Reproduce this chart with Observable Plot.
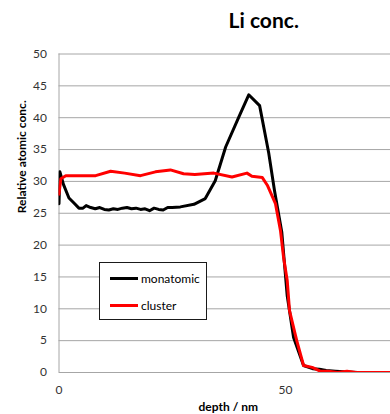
<!DOCTYPE html>
<html>
<head>
<meta charset="utf-8">
<script src="https://cdn.jsdelivr.net/npm/d3@7"></script>
<script src="https://cdn.jsdelivr.net/npm/@observablehq/plot@0.6"></script>
<style>
  html, body { margin: 0; padding: 0; background: #fff; }
  #wrap { position: relative; width: 390px; height: 414px; overflow: hidden; font-family: Lato, "Open Sans", sans-serif; }
  #legend { position: absolute; left: 99px; top: 262px; width: 108px; height: 58px; border: 1px solid #1a1a1a; box-sizing: border-box; background: #fff; }
  .item { position: absolute; left: 10px; height: 14px; display: flex; align-items: center; font-size: 12px; color: #000; }
  .swatch { width: 28px; height: 3px; margin-right: 3px; }
</style>
</head>
<body>
<div id="wrap"></div>
<script>
// Data
const title = "Li conc.";
const xLabel = "depth / nm";
const yLabel = "Relative atomic conc.";
const seriesNames = ["monatomic", "cluster"];
const seriesColors = ["#000000", "#ff0000"];
const xTicks = [0, 50];
const yTicks = [0, 5, 10, 15, 20, 25, 30, 35, 40, 45, 50];

const monoX = [0, 0.2, 1, 2.2, 3.3, 4.4, 5.3, 6, 7, 8, 9, 10, 11, 12, 13, 14, 15, 16, 17, 18, 19, 20, 21, 22, 23, 24, 25, 26.8, 29.8, 32.3, 34.5, 36.8, 39.7, 41.9, 44.3, 46.3, 47.6, 49.2, 50.4, 51.8, 54, 56, 57.5, 59, 61, 63, 66, 70, 74];
const monoY = [26.5, 31.5, 29.5, 27.4, 26.6, 25.8, 25.8, 26.2, 25.9, 25.7, 25.9, 25.6, 25.5, 25.7, 25.6, 25.8, 25.9, 25.7, 25.8, 25.6, 25.7, 25.4, 25.8, 25.6, 25.5, 25.9, 25.9, 26.0, 26.4, 27.3, 30.1, 35.4, 40.1, 43.6, 41.9, 34.5, 28.5, 22, 12, 5.5, 1.1, 0.6, 0.5, 0.3, 0.2, 0.1, 0, 0, 0];

const clusterX = [0, 0.4, 1.5, 4, 8.1, 11.4, 14.5, 18, 21.3, 24.6, 27.5, 30, 34.2, 38.2, 41.5, 42.6, 44.9, 46, 47.8, 48.9, 49.6, 50.4, 50.9, 52.5, 54, 55.9, 57.7, 59.5, 61.5, 63.6, 65.5, 68, 74];
const clusterY = [28, 30.4, 30.9, 30.9, 30.9, 31.6, 31.3, 30.9, 31.5, 31.8, 31.2, 31.1, 31.3, 30.7, 31.3, 30.8, 30.6, 29.4, 26.5, 22.3, 18, 14.4, 9.7, 5, 1.1, 0.8, 0.2, 0.2, 0, 0.2, 0, 0, 0];

const mono = monoX.map((x, i) => ({x, y: monoY[i]}));
const cluster = clusterX.map((x, i) => ({x, y: clusterY[i]}));

const chart = Plot.plot({
  width: 390,
  height: 414,
  marginLeft: 58.5,
  marginRight: 0,
  marginTop: 53.5,
  marginBottom: 42,
  style: { fontFamily: "Lato, 'Open Sans', sans-serif", fontSize: "12px", color: "#000", background: "#fff" },
  x: { domain: [0, 73.2], ticks: xTicks, tickSize: 0, tickPadding: 13, label: null },
  y: { domain: [0, 50], ticks: yTicks, tickSize: 0, tickPadding: 12, label: null },
  marks: [
    Plot.ruleY(yTicks, { stroke: "#a6a6a6", strokeWidth: 1 }),
    Plot.ruleX([0], { stroke: "#a6a6a6", strokeWidth: 1 }),
    Plot.axisX({ ticks: xTicks, tickSize: 0, tickPadding: 13, label: null, fill: "#333", fontSize: 12 }),
    Plot.axisY({ ticks: yTicks, tickSize: 0, tickPadding: 12, label: null, fill: "#333", fontSize: 12 }),
    Plot.line(mono, { x: "x", y: "y", stroke: seriesColors[0], strokeWidth: 3, clip: true }),
    Plot.line(cluster, { x: "x", y: "y", stroke: seriesColors[1], strokeWidth: 3, clip: true }),
    Plot.text([title], { text: d => d, frameAnchor: "top", dx: 39, dy: -32.5, lineAnchor: "middle", fontSize: 21, fontWeight: "bold", fill: "#000" }),
    Plot.text([yLabel], { text: d => d, frameAnchor: "left", dx: -37, rotate: -90, lineAnchor: "middle", fontSize: 12, fontWeight: "bold", fill: "#000" }),
    Plot.text([xLabel], { text: d => d, frameAnchor: "bottom", dx: 3.5, dy: 34.5, lineAnchor: "middle", fontSize: 12, fontWeight: "bold", fill: "#000" })
  ]
});

const wrap = document.getElementById("wrap");
wrap.appendChild(chart);

const legend = document.createElement("div");
legend.id = "legend";
seriesNames.forEach((name, i) => {
  const item = document.createElement("div");
  item.className = "item";
  item.style.top = (i === 0 ? 8 : 35) + "px";
  const sw = document.createElement("div");
  sw.className = "swatch";
  sw.style.background = seriesColors[i];
  const label = document.createElement("span");
  label.textContent = name;
  item.appendChild(sw);
  item.appendChild(label);
  legend.appendChild(item);
});
wrap.appendChild(legend);
</script>
</body>
</html>
